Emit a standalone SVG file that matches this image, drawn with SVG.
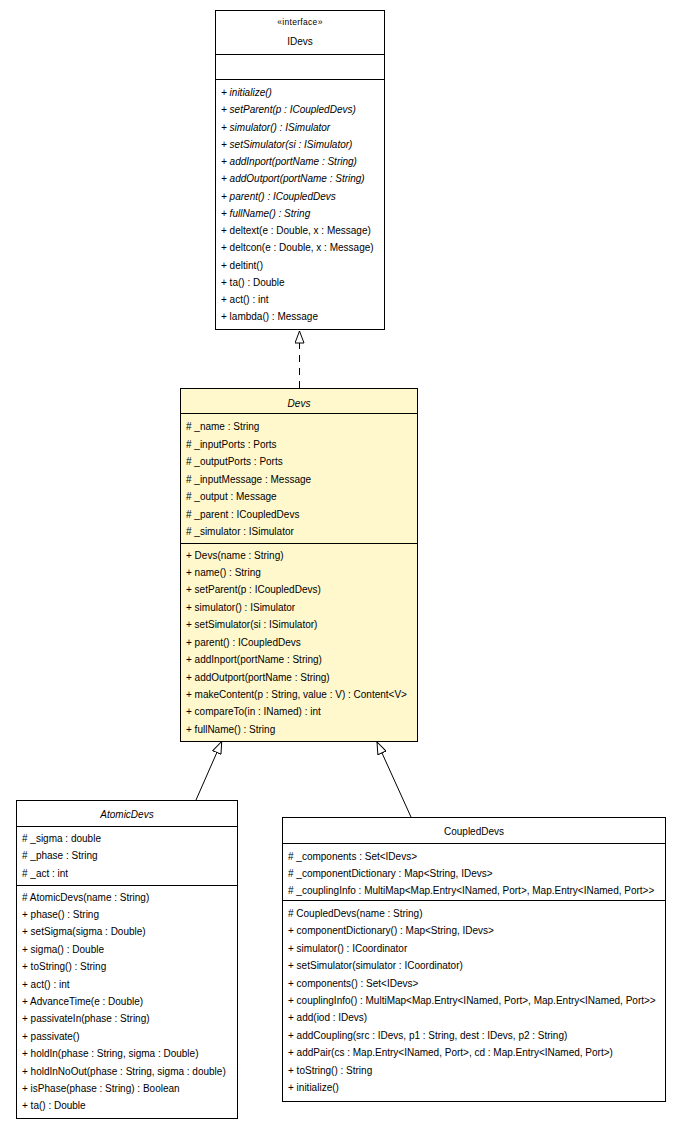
<svg xmlns="http://www.w3.org/2000/svg" width="682" height="1129" viewBox="0 0 682 1129">
<style>
  .box { fill: #ffffff; stroke: #000000; stroke-width: 1; }
  .hl { fill: #fff8cd; }
  .sep { stroke: #000000; stroke-width: 1; }
  text { font-family: "Liberation Sans", Arial, sans-serif; font-size: 10px; fill: #000000; }
  .c { text-anchor: middle; }
  .i { font-style: italic; }
  .st { font-size: 8.5px; letter-spacing: 0.3px; }
  .conn { stroke: #000000; stroke-width: 1; fill: none; }
</style>
<defs>
  <marker id="gen" viewBox="0 0 13 10" refX="12.5" refY="5" markerWidth="13" markerHeight="10" orient="auto" markerUnits="userSpaceOnUse">
    <path d="M0.5,0.5 L12.5,5 L0.5,9.5 Z" fill="#ffffff" stroke="#000000" stroke-width="1"/>
  </marker>
</defs>

<g id="IDevs">
  <rect class="box" x="215.5" y="10.5" width="169" height="319"/>
  <line class="sep" x1="215.5" y1="54.5" x2="384.5" y2="54.5"/>
  <line class="sep" x1="215.5" y1="79.5" x2="384.5" y2="79.5"/>
  <text class="c st" x="300" y="25.3">«interface»</text>
  <text class="c" x="300" y="45.2">IDevs</text>
  <text class="i" x="221" y="96.2">+ initialize()</text>
  <text class="i" x="221" y="113.4">+ setParent(p : ICoupledDevs)</text>
  <text class="i" x="221" y="130.7">+ simulator() : ISimulator</text>
  <text class="i" x="221" y="147.9">+ setSimulator(si : ISimulator)</text>
  <text class="i" x="221" y="165.1">+ addInport(portName : String)</text>
  <text class="i" x="221" y="182.4">+ addOutport(portName : String)</text>
  <text class="i" x="221" y="199.6">+ parent() : ICoupledDevs</text>
  <text class="i" x="221" y="216.8">+ fullName() : String</text>
  <text x="221" y="234.0">+ deltext(e : Double, x : Message)</text>
  <text x="221" y="251.3">+ deltcon(e : Double, x : Message)</text>
  <text x="221" y="268.5">+ deltint()</text>
  <text x="221" y="285.7">+ ta() : Double</text>
  <text x="221" y="303.0">+ act() : int</text>
  <text x="221" y="320.2">+ lambda() : Message</text>
</g>

<g id="Devs">
  <rect class="box hl" x="180.5" y="388.5" width="237" height="353"/>
  <line class="sep" x1="180.5" y1="413.5" x2="417.5" y2="413.5"/>
  <line class="sep" x1="180.5" y1="543.5" x2="417.5" y2="543.5"/>
  <text class="c i" x="299" y="406.8">Devs</text>
  <text x="186" y="430.2"># _name : String</text>
  <text x="186" y="447.7"># _inputPorts : Ports</text>
  <text x="186" y="465.2"># _outputPorts : Ports</text>
  <text x="186" y="482.7"># _inputMessage : Message</text>
  <text x="186" y="500.2"># _output : Message</text>
  <text x="186" y="517.7"># _parent : ICoupledDevs</text>
  <text x="186" y="535.2"># _simulator : ISimulator</text>
  <text x="186" y="558.5">+ Devs(name : String)</text>
  <text x="186" y="575.9">+ name() : String</text>
  <text x="186" y="593.4">+ setParent(p : ICoupledDevs)</text>
  <text x="186" y="610.8">+ simulator() : ISimulator</text>
  <text x="186" y="628.2">+ setSimulator(si : ISimulator)</text>
  <text x="186" y="645.7">+ parent() : ICoupledDevs</text>
  <text x="186" y="663.1">+ addInport(portName : String)</text>
  <text x="186" y="680.5">+ addOutport(portName : String)</text>
  <text x="186" y="697.9">+ makeContent(p : String, value : V) : Content&lt;V&gt;</text>
  <text x="186" y="715.4">+ compareTo(in : INamed) : int</text>
  <text x="186" y="732.8">+ fullName() : String</text>
</g>

<g id="AtomicDevs">
  <rect class="box" x="16.5" y="800.5" width="221" height="318"/>
  <line class="sep" x1="16.5" y1="826.5" x2="237.5" y2="826.5"/>
  <line class="sep" x1="16.5" y1="885.5" x2="237.5" y2="885.5"/>
  <text class="c i" x="127" y="817.5">AtomicDevs</text>
  <text x="22" y="841.8"># _sigma : double</text>
  <text x="22" y="859.3"># _phase : String</text>
  <text x="22" y="876.8"># _act : int</text>
  <text x="22" y="900.5"># AtomicDevs(name : String)</text>
  <text x="22" y="917.9">+ phase() : String</text>
  <text x="22" y="935.3">+ setSigma(sigma : Double)</text>
  <text x="22" y="952.7">+ sigma() : Double</text>
  <text x="22" y="970.1">+ toString() : String</text>
  <text x="22" y="987.5">+ act() : int</text>
  <text x="22" y="1004.9">+ AdvanceTime(e : Double)</text>
  <text x="22" y="1022.3">+ passivateIn(phase : String)</text>
  <text x="22" y="1039.7">+ passivate()</text>
  <text x="22" y="1057.1">+ holdIn(phase : String, sigma : Double)</text>
  <text x="22" y="1074.5">+ holdInNoOut(phase : String, sigma : double)</text>
  <text x="22" y="1091.9">+ isPhase(phase : String) : Boolean</text>
  <text x="22" y="1109.3">+ ta() : Double</text>
</g>

<g id="CoupledDevs">
  <rect class="box" x="282.5" y="817.5" width="383" height="284"/>
  <line class="sep" x1="282.5" y1="843.5" x2="665.5" y2="843.5"/>
  <line class="sep" x1="282.5" y1="900.5" x2="665.5" y2="900.5"/>
  <text class="c" x="474" y="835.2">CoupledDevs</text>
  <text x="288" y="860.2"># _components : Set&lt;IDevs&gt;</text>
  <text x="288" y="877.3"># _componentDictionary : Map&lt;String, IDevs&gt;</text>
  <text x="288" y="894.3"># _couplingInfo : MultiMap&lt;Map.Entry&lt;INamed, Port&gt;, Map.Entry&lt;INamed, Port&gt;&gt;</text>
  <text x="288" y="916.8"># CoupledDevs(name : String)</text>
  <text x="288" y="934.2">+ componentDictionary() : Map&lt;String, IDevs&gt;</text>
  <text x="288" y="951.7">+ simulator() : ICoordinator</text>
  <text x="288" y="969.1">+ setSimulator(simulator : ICoordinator)</text>
  <text x="288" y="986.6">+ components() : Set&lt;IDevs&gt;</text>
  <text x="288" y="1004.0">+ couplingInfo() : MultiMap&lt;Map.Entry&lt;INamed, Port&gt;, Map.Entry&lt;INamed, Port&gt;&gt;</text>
  <text x="288" y="1021.4">+ add(iod : IDevs)</text>
  <text x="288" y="1038.9">+ addCoupling(src : IDevs, p1 : String, dest : IDevs, p2 : String)</text>
  <text x="288" y="1056.3">+ addPair(cs : Map.Entry&lt;INamed, Port&gt;, cd : Map.Entry&lt;INamed, Port&gt;)</text>
  <text x="288" y="1073.8">+ toString() : String</text>
  <text x="288" y="1091.2">+ initialize()</text>
</g>

<g id="connectors">
  <line class="conn" x1="299.5" y1="388" x2="299.5" y2="343" stroke-dasharray="7,6"/>
  <line class="conn" x1="299.5" y1="343" x2="299.5" y2="331" marker-end="url(#gen)"/>
  <line class="conn" x1="196" y1="800" x2="221.7" y2="741.5" marker-end="url(#gen)"/>
  <line class="conn" x1="411" y1="817" x2="377" y2="742" marker-end="url(#gen)"/>
</g>
</svg>
